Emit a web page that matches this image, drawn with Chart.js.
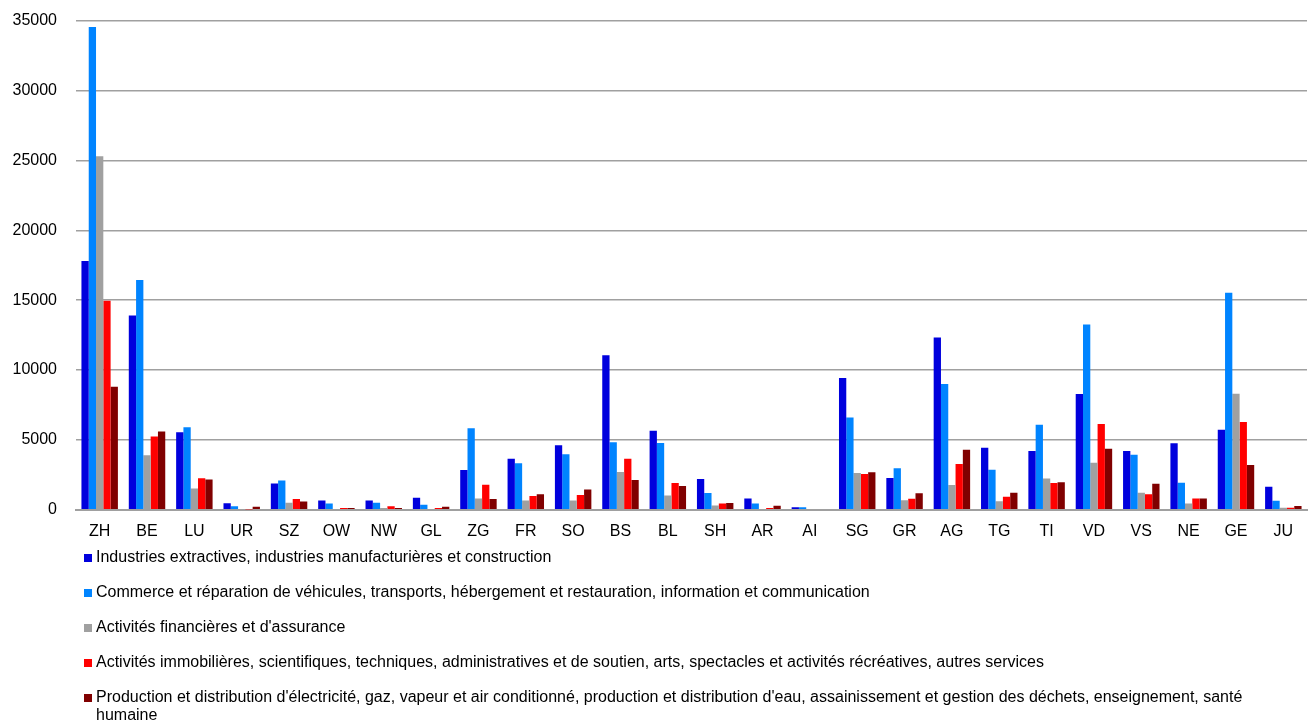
<!DOCTYPE html>
<html lang="fr">
<head>
<meta charset="UTF-8">
<title>Emplois par canton et secteur</title>
<script src="https://cdn.jsdelivr.net/npm/chart.js"></script>
<style>
    * { margin: 0; padding: 0; box-sizing: border-box; }
    body {
        background: #fff;
        width: 1309px;
        height: 722px;
        position: relative;
        font-family: "Liberation Sans", Arial, sans-serif;
        overflow: hidden;
    }
    .chart-box {
        position: absolute;
        left: 0;
        top: -8px;
        width: 1309px;
        height: 561px;
    }
    #legend {
        position: absolute;
        left: 84px;
        top: 548px;
        width: 1166px;
        list-style: none;
        font-size: 16px;
        line-height: 18px;
        color: #000;
    }
    #legend li {
        display: flex;
        align-items: flex-start;
        margin-bottom: 17px;
    }
    #legend .box {
        flex: none;
        width: 8px;
        height: 8px;
        margin-top: 6px;
        margin-right: 4px;
    }
</style>
</head>
<body>
<div class="chart-box"><canvas id="chart"></canvas></div>
<ul id="legend"></ul>
<script>
    const cantons = ['ZH', 'BE', 'LU', 'UR', 'SZ', 'OW', 'NW', 'GL', 'ZG', 'FR', 'SO', 'BS', 'BL',
        'SH', 'AR', 'AI', 'SG', 'GR', 'AG', 'TG', 'TI', 'VD', 'VS', 'NE', 'GE', 'JU'];

    const sectorNames = [
        'Industries extractives, industries manufacturières et construction',
        'Commerce et réparation de véhicules, transports, hébergement et restauration, information et communication',
        "Activités financières et d'assurance",
        'Activités immobilières, scientifiques, techniques, administratives et de soutien, arts, spectacles et activités récréatives, autres services',
        "Production et distribution d'électricité, gaz, vapeur et air conditionné, production et distribution d'eau, assainissement et gestion des déchets, enseignement, santé humaine"
    ];

    const industrie = [17800, 13900, 5550, 460, 1890, 670, 670, 860, 2850, 3660, 4620, 11050, 5650,
        2200, 810, 190, 9430, 2270, 12320, 4440, 4200, 8280, 4200, 4770, 5730, 1650];
    const commerce = [34550, 16450, 5900, 260, 2100, 450, 500, 360, 5840, 3330, 3970, 4830, 4780,
        1200, 455, 190, 6600, 2980, 9000, 2860, 6090, 13250, 3940, 1930, 15520, 645];
    const finance = [25300, 3900, 1520, 30, 505, 30, 120, 50, 810, 670, 670, 2700, 1030,
        310, 20, 10, 2630, 690, 1770, 620, 2240, 3370, 1220, 455, 8310, 145];
    const immobilier = [14950, 5250, 2250, 30, 780, 120, 260, 120, 1790, 980, 1050, 3660, 1910,
        455, 120, 50, 2560, 790, 3270, 930, 1910, 6140, 1120, 810, 6280, 145];
    const energie = [8800, 5600, 2170, 210, 590, 130, 120, 215, 770, 1120, 1460, 2130, 1700,
        480, 290, 50, 2680, 1190, 4300, 1220, 1980, 4370, 1860, 810, 3200, 265];

    const yTicks = [0, 5000, 10000, 15000, 20000, 25000, 30000, 35000];

    const colors = ['#0000dd', '#0084ff', '#a0a0a0', '#ff0000', '#800000'];
    const series = [industrie, commerce, finance, immobilier, energie];

    const chart = new Chart(document.getElementById('chart'), {
        type: 'bar',
        data: {
            labels: cantons,
            datasets: series.map((values, i) => ({
                label: sectorNames[i],
                data: values,
                backgroundColor: colors[i],
                borderWidth: 0,
                categoryPercentage: 0.77,
                barPercentage: 1.0
            }))
        },
        options: {
            responsive: true,
            maintainAspectRatio: false,
            animation: false,
            layout: { padding: { left: 0, right: 2, top: 3, bottom: 0 } },
            plugins: {
                legend: { display: false },
                tooltip: { enabled: false }
            },
            scales: {
                x: {
                    grid: { display: false, drawTicks: false },
                    border: { display: true, color: '#a0a0a0', width: 2 },
                    ticks: {
                        color: '#000',
                        padding: 12,
                        maxRotation: 0,
                        font: { family: '"Liberation Sans", Arial, sans-serif', size: 16 }
                    }
                },
                y: {
                    min: 0,
                    max: 35000,
                    afterBuildTicks: axis => { axis.ticks = yTicks.map(v => ({ value: v })); },
                    afterFit: axis => { axis.width = 76; },
                    grid: { color: '#a0a0a0', lineWidth: 1.5, drawTicks: false },
                    border: { display: false },
                    ticks: {
                        color: '#000',
                        padding: 19,
                        callback: v => String(v),
                        font: { family: '"Liberation Sans", Arial, sans-serif', size: 16 }
                    }
                }
            }
        }
    });

    // legend list under the chart, one entry per dataset
    const legend = document.getElementById('legend');
    chart.data.datasets.forEach(ds => {
        const li = document.createElement('li');
        const box = document.createElement('span');
        box.className = 'box';
        box.style.background = ds.backgroundColor;
        const txt = document.createElement('span');
        txt.textContent = ds.label;
        li.appendChild(box);
        li.appendChild(txt);
        legend.appendChild(li);
    });
</script>
</body>
</html>
